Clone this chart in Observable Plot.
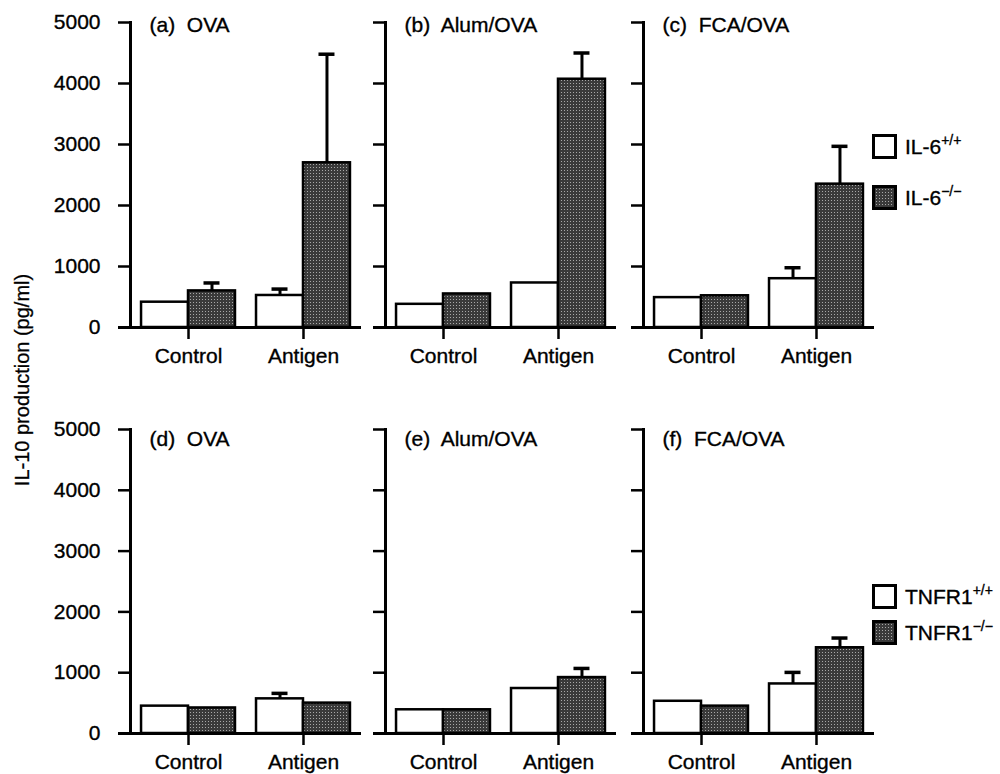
<!DOCTYPE html>
<html><head><meta charset="utf-8">
<script src="https://cdn.jsdelivr.net/npm/d3@7"></script>
<script src="https://cdn.jsdelivr.net/npm/@observablehq/plot@0.6"></script>
<style>
body{margin:0;background:#fff;font-family:"Liberation Sans",Arial,Helvetica,sans-serif;color:#000;}
#root{position:relative;width:1000px;height:774px;overflow:hidden;}
.panel{position:absolute;}
.panel text{stroke:#000;stroke-width:0.35px;}
.ylab{position:absolute;left:22px;top:380px;transform:translate(-50%,-50%) rotate(-90deg);white-space:nowrap;font-size:20px;-webkit-text-stroke:0.3px #000;}
.leg{position:absolute;height:24px;}
.leg svg{position:absolute;left:0;top:0;}
.leg span{position:absolute;left:33px;top:0;font-size:21px;line-height:26px;white-space:nowrap;-webkit-text-stroke:0.35px #000;}
.leg sup{font-size:14px;vertical-align:9px;line-height:0;}
</style></head><body>
<svg width="0" height="0" style="position:absolute">
  <defs>
    <pattern id="stipple" width="3" height="3" patternUnits="userSpaceOnUse">
      <rect width="3" height="3" fill="#3a3a3a"/>
      <rect x="1" y="1" width="1" height="1" fill="#a8a8a8"/>
    </pattern>
  </defs>
</svg>
<div id="root"></div>
<script>
// ---- data ----
const conditions = ["Control", "Antigen"];
const panelLabels = ["(a)\u00a0 OVA", "(b)\u00a0 Alum/OVA", "(c)\u00a0 FCA/OVA", "(d)\u00a0 OVA", "(e)\u00a0 Alum/OVA", "(f)\u00a0 FCA/OVA"];
// per panel: [Control, Antigen]
const wildTypeMean   = [[415, 525], [380, 730], [490, 800], [450, 570], [390, 740], [530, 815]];
const wildTypeUpper  = [[null, 630], [null, null], [null, 980], [null, 660], [null, null], [null, 1005]];
const knockoutMean   = [[600, 2700], [550, 4070], [520, 2350], [420, 500], [390, 920], [450, 1410]];
const knockoutUpper  = [[730, 4480], [null, 4500], [null, 2970], [null, null], [null, 1070], [null, 1570]];
const legendGenes    = ["IL-6", "TNFR1"];
const genotypes      = ["+/+", "\u2212/\u2212"];
const yTicks         = [0, 1000, 2000, 3000, 4000, 5000];
const yLabel         = "IL-10 production (pg/ml)";

// ---- layout ----
const colX = [130, 385, 643];
const rowTop = [22, 429];
const rowBottom = [327, 733];
const frameW = 231;
const padIn = 0.183, padOut = 0.096;
const step = frameW / (conditions.length - padIn + 2 * padOut);
const bw = step * (1 - padIn);
const capHalf = 8;
const titleDy = [3, 10];
const legendTops = [[134, 185], [584, 620]];

const root = document.getElementById("root");

function rows(means, panel) {
  return conditions.map((c, i) => ({cond: c, val: means[panel][i]}));
}
function errRows(means, uppers, panel) {
  return conditions.map((c, i) => ({cond: c, val: means[panel][i], hi: uppers[panel][i]})).filter(d => d.hi != null);
}

for (let p = 0; p < 6; p++) {
  const r = Math.floor(p / 3), c = p % 3;
  const ML = c === 0 ? colX[0] : 20;
  const MT = 12, MB = 48, MR = 4;
  const frameH = rowBottom[r] - rowTop[r];
  const width = ML + frameW + MR;
  const height = MT + frameH + MB;
  const wt = rows(wildTypeMean, p), ko = rows(knockoutMean, p);
  const wtE = errRows(wildTypeMean, wildTypeUpper, p), koE = errRows(knockoutMean, knockoutUpper, p);
  const chart = Plot.plot({
    width, height,
    marginLeft: ML, marginRight: MR, marginTop: MT, marginBottom: MB,
    x: {type: "band", domain: conditions, paddingInner: padIn, paddingOuter: padOut, round: false, axis: null},
    y: {domain: [0, 5000], axis: null},
    style: {fontFamily: '"Liberation Sans", Arial, Helvetica, sans-serif', fontSize: "21px", color: "black", background: "transparent", overflow: "visible"},
    marks: [
      Plot.barY(wt, {x: "cond", y: "val", insetRight: bw / 2, fill: "white", stroke: "black", strokeWidth: 2.5}),
      Plot.barY(ko, {x: "cond", y: "val", insetLeft: bw / 2, fill: "url(#stipple)", stroke: "black", strokeWidth: 2.5}),
      Plot.ruleX(wtE, {x: "cond", y1: "val", y2: "hi", dx: -bw / 4, strokeWidth: 3}),
      Plot.tickY(wtE, {x: "cond", y: "hi", insetLeft: bw / 4 - capHalf, insetRight: bw * 3 / 4 - capHalf, strokeWidth: 3.5}),
      Plot.ruleX(koE, {x: "cond", y1: "val", y2: "hi", dx: bw / 4, strokeWidth: 3}),
      Plot.tickY(koE, {x: "cond", y: "hi", insetLeft: bw * 3 / 4 - capHalf, insetRight: bw / 4 - capHalf, strokeWidth: 3.5}),
      Plot.frame({anchor: "left", strokeWidth: 3}),
      Plot.ruleY([0], {insetLeft: -12, strokeWidth: 3}),
      Plot.axisY({ticks: yTicks, tickSize: 12, tickPadding: 18, strokeWidth: 2.5, label: null,
        tickFormat: c === 0 ? (d => String(d)) : (() => ""), fontSize: 21}),
      Plot.axisX({tickSize: 12, tickPadding: 9, strokeWidth: 2.5, label: null, fontSize: 21}),
      Plot.text([panelLabels[p]], {frameAnchor: "top-left", textAnchor: "start", lineAnchor: "middle", dx: 19, dy: titleDy[r], fontSize: 21})
    ]
  });
  chart.classList.add("panel");
  chart.style.left = (colX[c] - ML) + "px";
  chart.style.top = (rowTop[r] - MT) + "px";
  root.appendChild(chart);
}

const yl = document.createElement("div");
yl.className = "ylab";
yl.textContent = yLabel;
root.appendChild(yl);

for (let r = 0; r < 2; r++) {
  genotypes.forEach((g, k) => {
    const d = document.createElement("div");
    d.className = "leg";
    d.style.left = "872px";
    d.style.top = legendTops[r][k] + "px";
    const fill = k === 0 ? "white" : "url(#stipple)";
    d.innerHTML = `<svg width="26" height="26"><rect x="1.5" y="1.5" width="22" height="22" fill="${fill}" stroke="black" stroke-width="3"/></svg><span>${legendGenes[r]}<sup>${g}</sup></span>`;
    root.appendChild(d);
  });
}
</script>
</body></html>
